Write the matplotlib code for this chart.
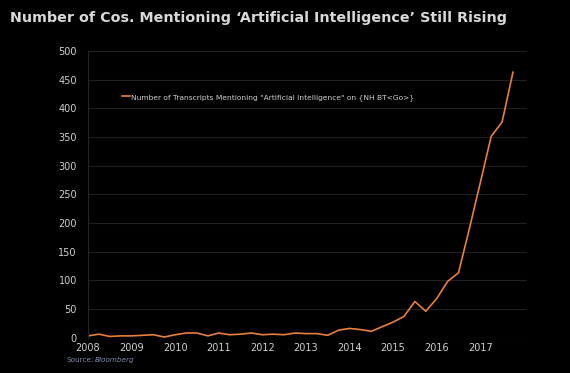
import numpy as np
import matplotlib
matplotlib.use("Agg")
import matplotlib.pyplot as plt

# quarterly counts, 2008 Q1 .. 2017 Q4
years = list(range(2008, 2018))
counts = [3, 6, 2, 3,
          3, 4, 5, 1,
          5, 8, 8, 3,
          8, 5, 6, 8,
          5, 6, 5, 8,
          7, 7, 4, 13,
          16, 14, 11, 19,
          27, 37, 63, 46,
          68, 98, 113, 190,
          270, 351, 376, 463]
quarters = [y + q / 4 for y in years for q in range(4)]

title = "Number of Cos. Mentioning \u2018Artificial Intelligence\u2019 Still Rising"
series_label = 'Number of Transcripts Mentioning "Artificial Intelligence" on {NH BT<Go>}'
yticks = list(range(0, 501, 50))

bg = "#000000"
fg = "#d0d0d0"

fig = plt.figure(figsize=(5.7, 3.73), dpi=100, facecolor=bg)
ax = fig.add_axes([0.1544, 0.0949, 0.770, 0.7684], facecolor=bg)

ax.plot(quarters, counts, color="#e8803a", lw=1.2, label=series_label)

ax.set_xlim(2008, 2018.07)
ax.set_ylim(0, 500)
ax.set_xticks(years)
ax.set_xticklabels([str(y) for y in years])
ax.set_yticks(yticks)
ax.tick_params(axis="both", length=0, colors=fg, labelsize=7)
ax.tick_params(axis="y", pad=8)
ax.tick_params(axis="x", pad=4)
ax.grid(axis="y", color="#1f1f1f", lw=0.8)
ax.set_axisbelow(True)
for s in ["top", "right", "bottom"]:
    ax.spines[s].set_visible(False)
ax.spines["left"].set_color("#262626")

leg = ax.legend(loc="upper left", bbox_to_anchor=(0.07, 0.862), frameon=False,
                fontsize=5.4, handlelength=1.1, handletextpad=0.1,
                borderaxespad=0)
for t in leg.get_texts():
    t.set_color(fg)

fig.text(0.018, 0.952, title, color="#d9d9d9", fontsize=10.3,
         fontweight="bold", va="center", ha="left")
fig.text(0.116, 0.036, "Source:", color="#7f8fb0", fontsize=5.2, va="center")
fig.text(0.167, 0.036, "Bloomberg", color="#7f8fb0", fontsize=5.2,
         style="italic", va="center")

fig.savefig("out.png", dpi=100, facecolor=bg)
